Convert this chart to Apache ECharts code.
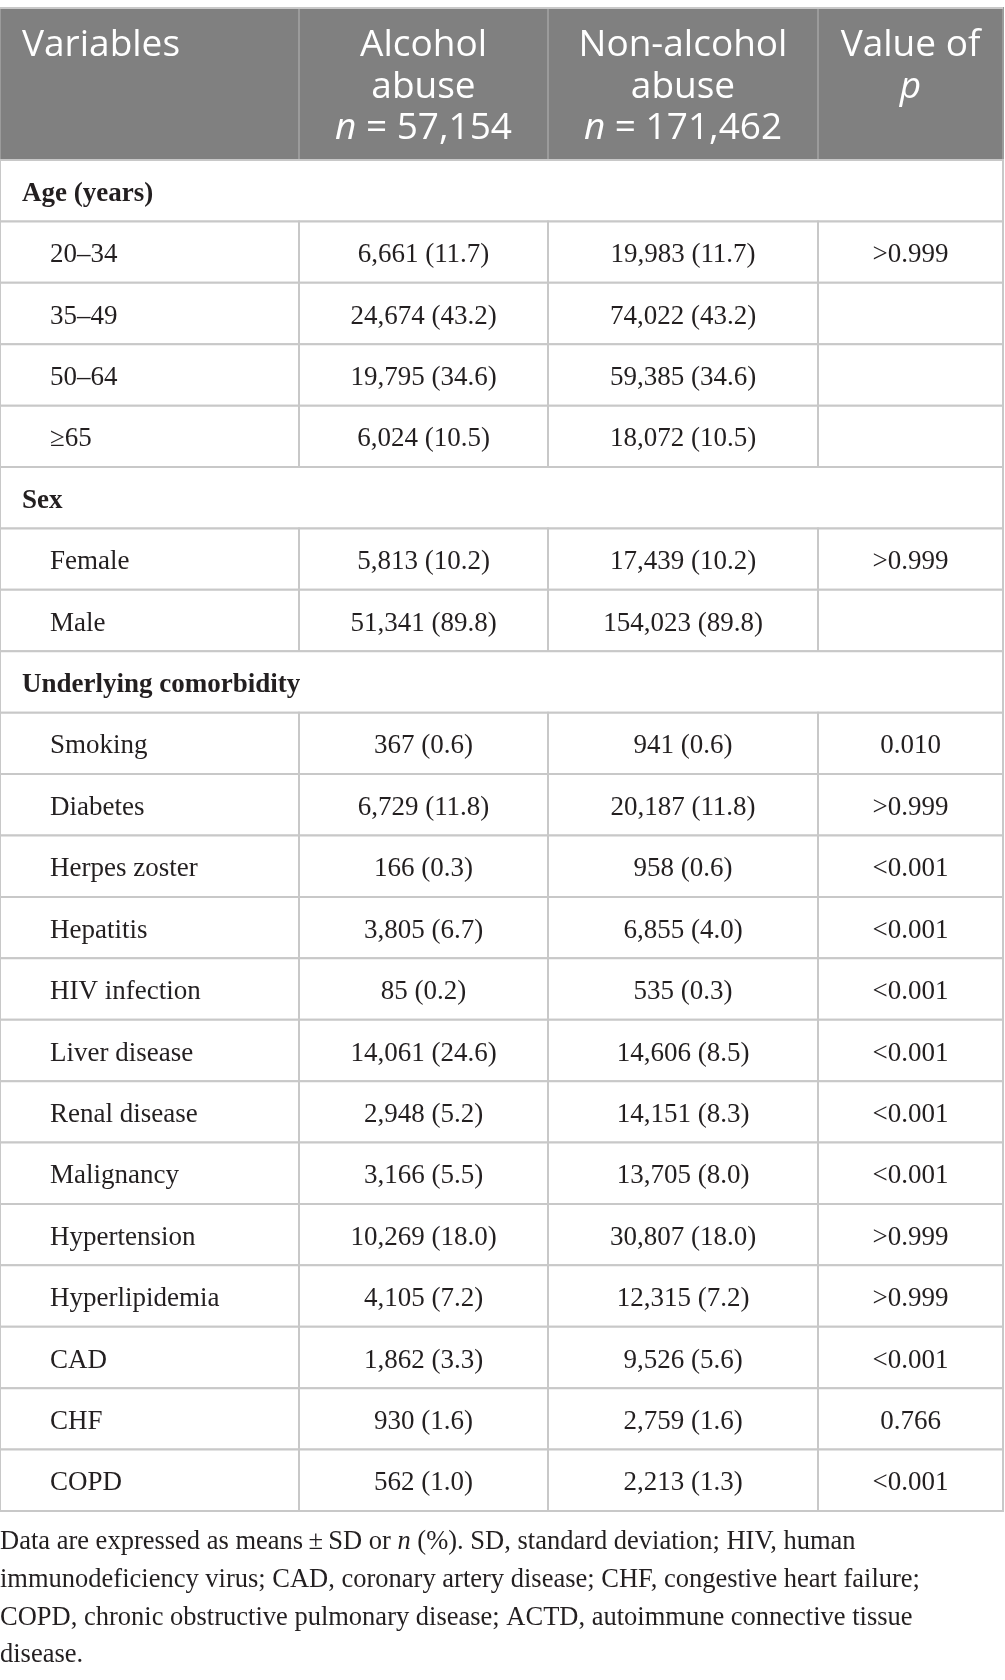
<!DOCTYPE html>
<html>
<head>
<meta charset="utf-8">
<script src="https://cdn.jsdelivr.net/npm/echarts@6/dist/echarts.min.js"></script>
<style>
html, body { margin: 0; padding: 0; background: #fff; }
#main { width: 1005px; height: 1680px; }
</style>
</head>
<body>
<div id="main"></div>
<script>
// table content
var headLines = [
  ['Variables'],
  ['Alcohol', 'abuse', '{i|n} = 57,154'],
  ['Non-alcohol', 'abuse', '{i|n} = 171,462'],
  ['Value of', '{i|p}']
];
var rowLabels = [
  'Age (years)', '20–34', '35–49', '50–64', '≥65',
  'Sex', 'Female', 'Male',
  'Underlying comorbidity', 'Smoking', 'Diabetes', 'Herpes zoster', 'Hepatitis',
  'HIV infection', 'Liver disease', 'Renal disease', 'Malignancy', 'Hypertension',
  'Hyperlipidemia', 'CAD', 'CHF', 'COPD'
];
var alcohol = [
  null, '6,661 (11.7)', '24,674 (43.2)', '19,795 (34.6)', '6,024 (10.5)',
  null, '5,813 (10.2)', '51,341 (89.8)',
  null, '367 (0.6)', '6,729 (11.8)', '166 (0.3)', '3,805 (6.7)',
  '85 (0.2)', '14,061 (24.6)', '2,948 (5.2)', '3,166 (5.5)', '10,269 (18.0)',
  '4,105 (7.2)', '1,862 (3.3)', '930 (1.6)', '562 (1.0)'
];
var nonAlcohol = [
  null, '19,983 (11.7)', '74,022 (43.2)', '59,385 (34.6)', '18,072 (10.5)',
  null, '17,439 (10.2)', '154,023 (89.8)',
  null, '941 (0.6)', '20,187 (11.8)', '958 (0.6)', '6,855 (4.0)',
  '535 (0.3)', '14,606 (8.5)', '14,151 (8.3)', '13,705 (8.0)', '30,807 (18.0)',
  '12,315 (7.2)', '9,526 (5.6)', '2,759 (1.6)', '2,213 (1.3)'
];
var pValues = [
  null, '>0.999', '', '', '',
  null, '>0.999', '',
  null, '0.010', '>0.999', '<0.001', '<0.001',
  '<0.001', '<0.001', '<0.001', '<0.001', '>0.999',
  '>0.999', '<0.001', '0.766', '<0.001'
];
var notes = [
  'Data are expressed as means\u2009±\u2009SD or {i|n} (%). SD, standard deviation; HIV, human',
  'immunodeficiency virus; CAD, coronary artery disease; CHF, congestive heart failure;',
  'COPD, chronic obstructive pulmonary disease; ACTD, autoimmune connective tissue',
  'disease.'
];

// layout
var colEdges = [0, 299, 548, 818, 1003];
var lineColor = '#c8c8c8';
var ink = '#231f20';
var serif = '"Liberation Serif", "DejaVu Serif", serif';
var sans = '"Open Sans", "Noto Sans", sans-serif';

var chart = echarts.init(document.getElementById('main'));

function colX(api, idx) {
  return colEdges.map(function (e) { return api.coord([e, idx])[0]; });
}

function renderHead(params, api) {
  var c = api.coord([0, 0]);
  var h = api.size([0, 1])[1];
  var top = c[1] - h / 2;
  var x = colX(api, 0);
  var kids = [];
  for (var k = 0; k < 4; k++) {
    kids.push({
      type: 'rect',
      shape: { x: x[k], y: top, width: x[k + 1] - x[k], height: h },
      style: { fill: '#808080', stroke: '#9b9b9b', lineWidth: 2 }
    });
  }
  kids.push({
    type: 'line',
    shape: { x1: x[0], y1: top, x2: x[4], y2: top },
    style: { stroke: lineColor, lineWidth: 2 }
  });
  for (var j = 0; j < 4; j++) {
    kids.push({
      type: 'text',
      style: {
        text: headLines[j].join('\n'),
        x: j === 0 ? x[0] + 22 : (x[j] + x[j + 1]) / 2,
        y: top + 17,
        align: j === 0 ? 'left' : 'center',
        verticalAlign: 'top',
        fill: '#fff',
        fontFamily: sans,
        fontSize: 37,
        lineHeight: 41.5,
        rich: {
          i: { fontStyle: 'italic', fontFamily: sans, fontSize: 37, lineHeight: 41.5, fill: '#fff' }
        }
      }
    });
  }
  return { type: 'group', children: kids };
}

function renderRow(params, api) {
  var i = api.value(1);
  var c = api.coord([0, i]);
  var h = api.size([0, 1])[1];
  var top = c[1] - h / 2;
  var x = colX(api, i);
  var ty = c[1] + 3;
  var kids = [];
  if (alcohol[i] === null) {
    kids.push({
      type: 'rect',
      shape: { x: x[0], y: top, width: x[4] - x[0], height: h },
      style: { fill: '#fff', stroke: lineColor, lineWidth: 2 }
    });
    kids.push({
      type: 'text',
      style: {
        text: rowLabels[i], x: x[0] + 22, y: ty,
        align: 'left', verticalAlign: 'middle',
        fill: ink, fontFamily: serif, fontSize: 27, fontWeight: 'bold'
      }
    });
  } else {
    var cells = [rowLabels[i], alcohol[i], nonAlcohol[i], pValues[i]];
    for (var k = 0; k < 4; k++) {
      kids.push({
        type: 'rect',
        shape: { x: x[k], y: top, width: x[k + 1] - x[k], height: h },
        style: { fill: '#fff', stroke: lineColor, lineWidth: 2 }
      });
      kids.push({
        type: 'text',
        style: {
          text: cells[k],
          x: k === 0 ? x[0] + 50 : (x[k] + x[k + 1]) / 2,
          y: ty,
          align: k === 0 ? 'left' : 'center',
          verticalAlign: 'middle',
          fill: ink, fontFamily: serif, fontSize: 27
        }
      });
    }
  }
  return { type: 'group', children: kids };
}

var option = {
  animation: false,
  grid: [
    { left: 0, top: 8, width: 1003, height: 152 },
    { left: 0, top: 160, width: 1003, height: 1351 }
  ],
  xAxis: [
    { type: 'value', gridIndex: 0, min: 0, max: 1003, show: false },
    { type: 'value', gridIndex: 1, min: 0, max: 1003, show: false }
  ],
  yAxis: [
    { type: 'category', gridIndex: 0, data: ['head'], show: false },
    { type: 'category', gridIndex: 1, data: rowLabels, inverse: true, show: false }
  ],
  series: [
    {
      type: 'custom', xAxisIndex: 0, yAxisIndex: 0,
      renderItem: renderHead,
      data: [[0, 0]],
      encode: { x: 0, y: 1 }
    },
    {
      type: 'custom', xAxisIndex: 1, yAxisIndex: 1,
      renderItem: renderRow,
      data: rowLabels.map(function (r, i) { return [0, i]; }),
      encode: { x: 0, y: 1 }
    }
  ],
  graphic: notes.map(function (t, n) {
    return {
      type: 'text',
      x: 0,
      y: 1542 + n * 37.8,
      style: {
        text: t,
        verticalAlign: 'middle',
        fill: ink, fontFamily: serif, fontSize: 26.5,
        rich: { i: { fontStyle: 'italic', fontFamily: serif, fontSize: 26.5, fill: ink } }
      }
    };
  })
};

chart.setOption(option);
</script>
</body>
</html>
